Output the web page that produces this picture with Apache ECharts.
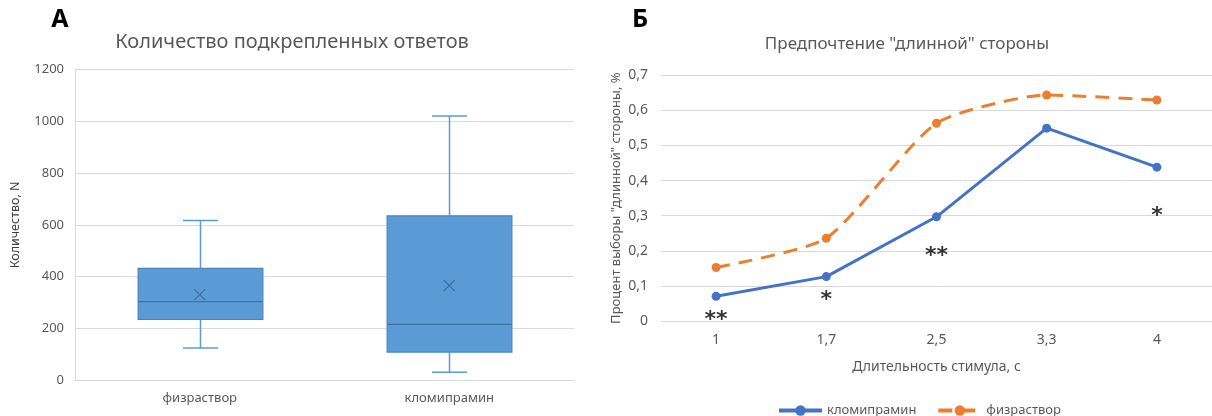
<!DOCTYPE html>
<html><head><meta charset="utf-8">
<script src="https://cdn.jsdelivr.net/npm/echarts@6/dist/echarts.min.js"></script>
<style>html,body{margin:0;padding:0;background:#fff}#c{width:1212px;height:416px}</style>
</head><body><div id="c"></div>
<script>
// ---- Panel A: box plot data ----
const boxCategories = ['физраствор', 'кломипрамин'];
const boxMin    = [125, 31];
const boxQ1     = [235, 109];
const boxMedian = [304, 216];
const boxQ3     = [432, 635];
const boxMax    = [617, 1020];
const boxMean   = [331, 366];

// ---- Panel B: line chart data ----
const durations = ['1', '1,7', '2,5', '3,3', '4'];
const clomipramine = [0.071, 0.127, 0.297, 0.549, 0.438];
const saline       = [0.153, 0.236, 0.563, 0.643, 0.629];
const sigMarks = ['**', '*', '**', '', '*'];
const sigY     = [0.016, 0.074, 0.198, null, 0.314];

const FONT = 'Noto Sans';
const GRAY = '#595959';
const GRID = '#D9D9D9';

const boxData = boxCategories.map((c, i) => [i, boxMin[i], boxQ1[i], boxMedian[i], boxQ3[i], boxMax[i], boxMean[i]]);

function renderBox(params, api) {
  const i = api.value(0);
  const pMin = api.coord([i, api.value(1)]);
  const pQ1 = api.coord([i, api.value(2)]);
  const pMed = api.coord([i, api.value(3)]);
  const pQ3 = api.coord([i, api.value(4)]);
  const pMax = api.coord([i, api.value(5)]);
  const pMean = api.coord([i, api.value(6)]);
  const band = api.size([1, 0])[0];
  const hw = band * 0.25, cw = band * 0.07, m = 5.5;
  const x = Math.round(pMin[0]) + 0.5;
  const wl = { stroke: '#5B9BD5', lineWidth: 1.5 };
  return {
    type: 'group',
    children: [
      { type: 'line', shape: { x1: x, y1: pMax[1], x2: x, y2: pQ3[1] }, style: wl },
      { type: 'line', shape: { x1: x, y1: pQ1[1], x2: x, y2: pMin[1] }, style: wl },
      { type: 'line', shape: { x1: x - cw, y1: pMax[1], x2: x + cw, y2: pMax[1] }, style: wl },
      { type: 'line', shape: { x1: x - cw, y1: pMin[1], x2: x + cw, y2: pMin[1] }, style: wl },
      { type: 'rect', shape: { x: x - hw, y: pQ3[1], width: hw * 2, height: pQ1[1] - pQ3[1] },
        style: { fill: '#5B9BD5', stroke: '#4A86BE', lineWidth: 1.2 } },
      { type: 'line', shape: { x1: x - hw, y1: pMed[1], x2: x + hw, y2: pMed[1] },
        style: { stroke: '#41719C', lineWidth: 1.3 } },
      { type: 'line', shape: { x1: pMean[0] - m, y1: pMean[1] - m, x2: pMean[0] + m, y2: pMean[1] + m },
        style: { stroke: '#41719C', lineWidth: 1.2 } },
      { type: 'line', shape: { x1: pMean[0] - m, y1: pMean[1] + m, x2: pMean[0] + m, y2: pMean[1] - m },
        style: { stroke: '#41719C', lineWidth: 1.2 } }
    ]
  };
}

const comma = v => v === 0 ? '0' : v.toFixed(1).replace('.', ',');

const chart = echarts.init(document.getElementById('c'), null, { renderer: 'canvas' });
chart.setOption({
  animation: false,
  textStyle: { fontFamily: FONT },
  graphic: [
    { type: 'text', x: 60, y: 20, style: { text: 'А', font: 'bold 25px "Noto Sans"', fill: '#000', textAlign: 'center', textVerticalAlign: 'middle' } },
    { type: 'text', x: 640, y: 20, style: { text: 'Б', font: 'bold 25px "Noto Sans"', fill: '#000', textAlign: 'center', textVerticalAlign: 'middle' } },
    { type: 'text', x: 292, y: 42, style: { text: 'Количество подкрепленных ответов', font: '20px "Noto Sans"', fill: GRAY, textAlign: 'center', textVerticalAlign: 'middle' } },
    { type: 'text', x: 907, y: 44, style: { text: 'Предпочтение "длинной" стороны', font: '17px "Noto Sans"', fill: GRAY, textAlign: 'center', textVerticalAlign: 'middle' } }
  ],
  legend: {
    data: ['кломипрамин', 'физраствор'],
    left: 772, top: 399,
    itemWidth: 43, itemHeight: 13, itemGap: 20,
    lineStyle: { width: 4 },
    textStyle: { fontFamily: FONT, fontSize: 13, color: GRAY }
  },
  grid: [
    { left: 75, width: 499, top: 69.5, height: 310.8 },
    { left: 661, right: 0, top: 75, height: 246.3 }
  ],
  xAxis: [
    { type: 'category', gridIndex: 0, data: boxCategories, boundaryGap: true,
      axisLine: { lineStyle: { color: GRID } }, axisTick: { show: false },
      axisLabel: { color: GRAY, fontSize: 13, margin: 11, fontFamily: FONT } },
    { type: 'category', gridIndex: 1, data: durations, boundaryGap: true,
      name: 'Длительность стимула, с', nameLocation: 'middle', nameGap: 39,
      nameTextStyle: { color: GRAY, fontSize: 14, fontFamily: FONT },
      axisLine: { lineStyle: { color: GRID } }, axisTick: { show: false },
      axisLabel: { color: GRAY, fontSize: 14, margin: 12, fontFamily: FONT } }
  ],
  yAxis: [
    { type: 'value', gridIndex: 0, min: 0, max: 1200, interval: 200,
      name: 'Количество, N', nameLocation: 'middle', nameGap: 53,
      nameTextStyle: { color: '#404040', fontSize: 12.5, fontFamily: FONT },
      axisLine: { show: true, lineStyle: { color: GRID } }, axisTick: { show: false },
      splitLine: { lineStyle: { color: GRID } },
      axisLabel: { color: GRAY, fontSize: 13, margin: 11, fontFamily: FONT, formatter: v => String(v) } },
    { type: 'value', gridIndex: 1, min: 0, max: 0.7, interval: 0.1,
      name: 'Процент выборы "длинной" стороны, %', nameLocation: 'middle', nameGap: 38,
      nameTextStyle: { color: GRAY, fontSize: 13, fontFamily: FONT },
      axisLine: { show: false }, axisTick: { show: false },
      splitLine: { lineStyle: { color: GRID } },
      axisLabel: { color: GRAY, fontSize: 14, margin: 13, fontFamily: FONT, formatter: comma } }
  ],
  series: [
    { type: 'custom', xAxisIndex: 0, yAxisIndex: 0, data: boxData, renderItem: renderBox,
      encode: { x: 0, y: [1, 2, 3, 4, 5, 6] } },
    { name: 'кломипрамин', type: 'line', xAxisIndex: 1, yAxisIndex: 1, data: clomipramine,
      color: '#4472C4', symbol: 'circle', symbolSize: 9,
      lineStyle: { width: 3, color: '#4472C4' }, itemStyle: { color: '#4472C4' } },
    { name: 'физраствор', type: 'line', xAxisIndex: 1, yAxisIndex: 1, data: saline,
      color: '#ED7D31', symbol: 'circle', symbolSize: 9, smooth: 0.2,
      lineStyle: { width: 3, color: '#ED7D31', type: [14, 9] }, itemStyle: { color: '#ED7D31' } },
    { type: 'scatter', xAxisIndex: 1, yAxisIndex: 1, symbolSize: 0, silent: true,
      data: durations.map((d, i) => sigY[i] == null ? null : { value: [i, sigY[i]], label: { formatter: sigMarks[i] } }),
      label: { show: true, position: 'inside', color: '#000', fontSize: 22, fontWeight: 'bold',
        fontFamily: 'DejaVu Sans', offset: [0, 5] } }
  ]
});
</script></body></html>
